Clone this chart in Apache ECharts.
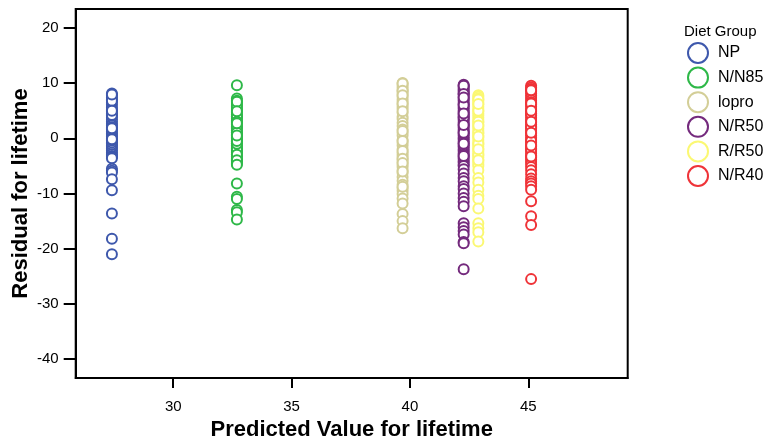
<!DOCTYPE html>
<html>
<head>
<meta charset="utf-8">
<script src="https://cdn.jsdelivr.net/npm/echarts@6/dist/echarts.min.js"></script>
<style>html,body{margin:0;padding:0;background:#fff}#c{width:765px;height:439px}</style>
</head>
<body>
<div id="c"></div>
<script>
// Group names and their predicted (fitted) values
const groups = ['NP', 'N/N85', 'lopro', 'N/R50', 'R/R50', 'N/R40'];
const predicted = [27.41, 32.69, 39.69, 42.27, 42.89, 45.12];
const colors = ['#3E58AC', '#2EB848', '#D3CE97', '#742A7D', '#FBF873', '#EF3338'];
const xTicks = [30, 35, 40, 45];
const yTicks = [20, 10, 0, -10, -20, -30, -40];

// Residuals
const resNP = [8.1, 7.8, 7.4, 7.0, 6.5, 6.1, 5.6, 5.2, 4.9, 4.5, 4.1, 3.8, 3.4, 3.0, 2.6, 2.3, 2.0, 1.6, 1.2, 0.9, 0.6, 0.3, 0.0, -0.4, -0.7, -1.0, -1.3, -1.6, -1.9, -2.2, -2.6, -2.9, -3.2, -3.4, -3.6, 1.8, 4.2, 6.8, 7.9, 5.0, -0.2, -5.5, -5.9, -6.2, -7.4, -9.4, -13.6, -18.2, -21.0];
const resNN85 = [9.6, 7.2, 6.8, 6.4, 6.0, 5.5, 5.1, 4.7, 4.3, 3.9, 3.6, 3.2, 2.9, 2.5, 2.1, 1.8, 1.4, 1.1, 0.7, 0.4, 0.1, -0.3, -0.6, -0.9, -1.3, -1.6, -1.9, -2.3, -2.6, -2.9, -3.3, -3.6, -3.9, -4.3, -4.6, 5.8, 4.0, 2.0, 0.0, -2.0, 6.6, 3.0, 1.0, -1.0, -3.0, 4.9, 2.7, -0.5, -4.0, -4.8, -8.2, -10.6, -11.0, -13.0, -13.4, -14.7, 0.5];
const resLopro = [10.0, 9.6, 9.2, 8.8, 8.4, 8.0, 7.5, 7.0, 6.6, 6.1, 5.7, 5.3, 4.6, 3.9, 3.5, 2.8, 2.2, 1.6, 1.0, 0.5, -0.3, -0.8, -1.3, -2.0, -2.6, -3.0, -3.4, -3.9, -4.3, -4.8, -5.2, -5.8, -6.3, -7.0, -7.7, -8.4, -9.0, -9.5, -10.1, -10.9, -11.8, -13.7, -15.0, -16.3, 9.9, 8.6, 7.8, 6.3, 4.9, 1.3, -0.5, -2.3, -3.7, -4.5, -6.0, -8.8];
const resNR50 = [9.7, 9.4, 9.1, 8.8, 8.5, 8.2, 7.9, 7.5, 7.1, 6.8, 6.4, 6.1, 5.7, 5.4, 5.0, 4.7, 4.3, 4.0, 3.6, 3.3, 2.9, 2.6, 2.2, 1.9, 1.5, 1.2, 0.8, 0.5, 0.1, -0.2, -0.6, -0.9, -1.3, -1.6, -2.0, -2.3, -2.7, -3.0, -3.4, -3.7, -4.1, -4.4, -4.8, 9.5, 8.0, 6.0, 3.8, 1.0, -1.0, -3.2, 7.4, 4.5, -5.0, -5.6, -6.4, -7.2, -7.8, -8.7, -9.2, -10.0, -10.8, -11.5, -12.3, -15.4, -16.1, -16.8, -17.4, -18.8, -19.0, -23.7, 2.4];
const resRR50 = [7.8, 7.5, 7.2, 6.9, 6.5, 6.1, 5.7, 5.3, 4.9, 4.5, 4.1, 3.7, 3.3, 2.9, 2.5, 2.1, 1.7, 1.3, 0.9, 0.5, 0.1, -0.3, -0.7, -1.1, -1.5, -1.9, -2.3, -2.7, -3.1, -3.5, -3.9, -4.3, -4.7, -5.0, 7.0, 5.0, 3.0, 1.0, -1.0, -3.0, 6.2, 2.3, -2.0, -5.8, -7.2, -8.0, -9.3, -10.4, -11.0, -12.7, -15.4, -16.3, -17.0, -18.7, 0.3, -4.0];
const resNR40 = [9.5, 9.2, 8.9, 8.5, 8.1, 7.7, 7.3, 6.9, 6.5, 6.1, 5.7, 5.3, 4.9, 4.5, 4.1, 3.7, 3.3, 2.9, 2.5, 2.1, 1.7, 1.3, 0.9, 0.5, 0.1, -0.3, -0.7, -1.1, -1.5, -1.9, -2.3, -2.7, -3.1, -3.5, -3.9, -4.3, -4.7, 8.7, 6.3, 4.4, 2.0, -0.5, -2.0, 5.0, 1.0, -3.3, -5.2, -5.8, -6.5, -7.3, -7.8, -8.2, -8.7, -9.3, -11.4, -14.1, -15.7, -25.5, 3.0, -1.3];
const residuals = [resNP, resNN85, resLopro, resNR50, resRR50, resNR40];

const FONT = '"Liberation Sans", Arial, sans-serif';
const chart = echarts.init(document.getElementById('c'), null, {renderer: 'canvas'});

const series = groups.map((g, i) => ({
  name: g,
  type: 'scatter',
  symbol: 'emptyCircle',
  symbolSize: 10,
  itemStyle: {color: colors[i], borderColor: colors[i], borderWidth: 2, opacity: 1},
  emphasis: {disabled: true},
  data: residuals[i].map(r => [predicted[i], r])
}));

chart.setOption({
  animation: false,
  backgroundColor: '#fff',
  textStyle: {fontFamily: FONT},
  title: {
    text: 'Diet Group', left: 679, top: 19,
    textStyle: {fontFamily: FONT, fontSize: 15, fontWeight: 'normal', color: '#000'}
  },
  legend: {
    orient: 'vertical', left: 682, top: 37,
    itemWidth: 30, itemHeight: 20, itemGap: 2.6,
    icon: 'emptyCircle',
    itemStyle: {borderWidth: 2},
    textStyle: {fontFamily: FONT, fontSize: 16, color: '#000'},
    data: groups
  },
  grid: {
    left: 75.7, right: 137.3, top: 9, bottom: 61,
    containLabel: false, outerBoundsMode: 'none',
    show: true, borderColor: '#000', borderWidth: 2, backgroundColor: 'transparent'
  },
  xAxis: {
    type: 'value', min: 25.88, max: 49.2,
    name: 'Predicted Value for lifetime', nameLocation: 'middle', nameGap: 41,
    nameMoveOverlap: false,
    nameTextStyle: {fontFamily: FONT, fontSize: 22, fontWeight: 'bold', color: '#000'},
    axisLine: {show: true, onZero: false, lineStyle: {color: '#000', width: 2}},
    axisTick: {show: true, inside: false, length: 10, lineStyle: {color: '#000', width: 2}, customValues: xTicks},
    axisLabel: {fontFamily: FONT, fontSize: 15, color: '#000', margin: 21, customValues: xTicks},
    splitLine: {show: false}
  },
  yAxis: {
    type: 'value', min: -43.4, max: 23.4,
    name: 'Residual for lifetime', nameLocation: 'middle', nameGap: 44, nameRotate: 90,
    nameMoveOverlap: false,
    nameTextStyle: {fontFamily: FONT, fontSize: 22, fontWeight: 'bold', color: '#000'},
    axisLine: {show: true, onZero: false, lineStyle: {color: '#000', width: 2}},
    axisTick: {show: true, inside: false, length: 12, lineStyle: {color: '#000', width: 2}, customValues: yTicks},
    axisLabel: {fontFamily: FONT, fontSize: 15, color: '#000', margin: 17, customValues: yTicks},
    splitLine: {show: false}
  },
  series: series
});
</script>
</body>
</html>
